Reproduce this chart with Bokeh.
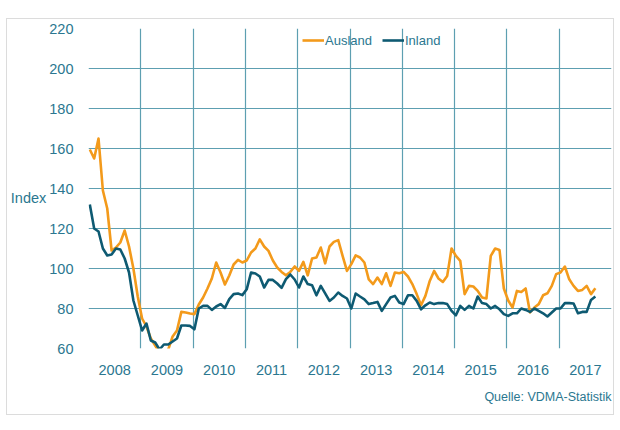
import numpy as np
from bokeh.plotting import figure
from bokeh.models import FixedTicker, Legend, LegendItem, Range1d, Title
from bokeh.embed import file_html
from bokeh.resources import INLINE

# ---- data (monthly index values, Jan 2008 - Sep 2017) ----
start_year = 2008
ausland = [
    159.5, 155, 165, 139, 130, 109, 110.5, 113, 119, 111, 100, 86,
    75, 71, 65, 61.5, 58, 56, 59.5, 66, 69, 78.3, 78, 77.5,
    77.2, 82, 85.5, 90, 95, 103, 98, 92, 96.5, 102, 104.3, 103,
    104, 108, 110, 114.6, 111, 108.8, 104, 100.5, 98.3, 96.6, 98.3, 101,
    98.8, 103.3, 96.6, 105, 105.5, 110.5, 102.6, 111, 113.3, 114.2, 106.3, 98.8,
    102.2, 106.6, 105.5, 103, 94.6, 92.2, 95.5, 92.2, 97.6, 91.3, 98, 97.6,
    98.3, 96, 92.2, 87.2, 81.6, 86.3, 93.8, 98.8, 95, 93.3, 96.3, 110,
    106.3, 103.8, 87.2, 91.3, 91, 88.8, 85.5, 85, 106.3, 110, 109.3, 90,
    84, 80.5, 88.8, 88.3, 90, 78, 80.5, 82.2, 86.6, 87.6, 91.3, 97.2,
    98, 101, 94.6, 91.3, 88.8, 89.3, 91.3, 87.2, 90.1,
]
inland = [
    132, 120, 118.5, 110, 106.5, 107, 110, 109.5, 105, 98, 84, 76.5,
    69, 72.5, 64, 63, 59.5, 62, 62, 63.5, 65, 71.5, 71.5, 71.3,
    69.6, 80, 81.3, 81.3, 79.3, 81, 82.2, 80.3, 84.7, 87.2, 87.5, 86.7,
    89.6, 98, 97.5, 96, 90.5, 94.3, 94.3, 92.5, 90.3, 94.7, 97, 94.5,
    90.5, 96, 92.2, 91.6, 86.6, 91.3, 87.6, 83.8, 85.5, 88, 86.3, 85,
    80, 87.5, 86, 84.6, 82.2, 82.7, 83.3, 78.8, 82.2, 85.5, 86.3, 83,
    82.2, 86.6, 86.6, 83.8, 79.6, 81.6, 83, 82.2, 82.7, 82.7, 82.2, 78.8,
    76.6, 81.3, 79.3, 81.3, 80, 86, 82.7, 82.2, 80, 81.3, 79.6, 77.2,
    76.3, 77.6, 77.6, 80, 79.3, 78.3, 80, 78.8, 77.6, 76, 78, 80,
    80, 82.7, 82.7, 82.5, 77.6, 78.3, 78.3, 84.3, 86,
]
years = list(range(2008, 2018))
year_labels = [str(y) for y in years]
y_ticks = [60, 80, 100, 120, 140, 160, 180, 200, 220]
series_names = ["Ausland", "Inland"]

x = start_year + (np.arange(len(ausland)) + 0.3) / 12.0

ORANGE = "#f39a1b"
DARK = "#0e5a72"
TEAL_TXT = "#2b7790"
GRID = "#5d9fb1"
FONT = "Liberation Sans"

p = figure(
    frame_width=523, frame_height=320,
    output_backend="svg", toolbar_location=None,
    x_range=Range1d(2008, 2018), y_range=Range1d(60, 220),
    min_border_left=70, min_border_right=2, min_border_top=9, min_border_bottom=61,
    background_fill_color="white", border_fill_color="white",
)
p.outline_line_color = None
p.styles = {"border": "1px solid #dcdcdc", "margin-top": "18px", "margin-left": "6px"}

# axes
p.yaxis.ticker = FixedTicker(ticks=y_ticks)
p.yaxis.axis_line_color = None
p.yaxis.major_tick_line_color = None
p.yaxis.minor_tick_line_color = None
p.yaxis.major_label_standoff = 9
p.yaxis.major_label_text_font = FONT
p.yaxis.major_label_text_font_size = "14.5px"
p.yaxis.major_label_text_color = TEAL_TXT
p.yaxis.axis_label = "\nIndex"
p.yaxis.axis_label_orientation = "horizontal"
p.yaxis.axis_label_standoff = 0
p.yaxis.axis_label_text_font = FONT
p.yaxis.axis_label_text_font_size = "14.5px"
p.yaxis.axis_label_text_font_style = "normal"
p.yaxis.axis_label_text_color = TEAL_TXT

centers = [y + 0.5 for y in years]
p.xaxis.ticker = FixedTicker(ticks=centers)
p.xaxis.major_label_overrides = {c: l for c, l in zip(centers, year_labels)}
p.xaxis.axis_line_color = None
p.xaxis.major_tick_line_color = None
p.xaxis.minor_tick_line_color = None
p.xaxis.major_label_standoff = 10
p.xaxis.major_label_text_font = FONT
p.xaxis.major_label_text_font_size = "14.5px"
p.xaxis.major_label_text_color = TEAL_TXT

# grid
p.xgrid.ticker = FixedTicker(ticks=years)
p.xgrid.grid_line_color = GRID
p.xgrid.grid_line_width = 1.2
p.ygrid.grid_line_color = GRID
p.ygrid.grid_line_width = 1.2

r1 = p.line(x, ausland, line_color=ORANGE, line_width=2.6, line_join="round")
r2 = p.line(x, inland, line_color=DARK, line_width=2.6, line_join="round")

legend = Legend(
    items=[LegendItem(label=series_names[0], renderers=[r1]),
           LegendItem(label=series_names[1], renderers=[r2])],
    orientation="horizontal", location=(214, 300),
    background_fill_alpha=0, border_line_color=None,
    label_text_font=FONT, label_text_font_size="13px", label_text_color=TEAL_TXT,
    glyph_width=22, glyph_height=16, label_height=16, label_standoff=1,
    spacing=10, padding=2, margin=0,
)
p.add_layout(legend)

src = Title(text="Quelle: VDMA-Statistik", align="right", standoff=21,
            text_font=FONT, text_font_size="12.5px", text_font_style="normal",
            text_color=TEAL_TXT)
p.add_layout(src, "below")

open("out.html", "w").write(file_html(p, INLINE))
